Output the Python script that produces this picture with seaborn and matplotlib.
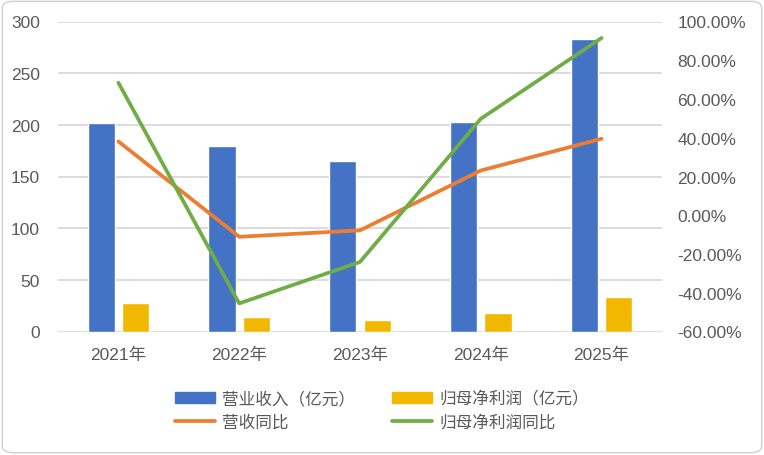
import numpy as np
import pandas as pd
import matplotlib
matplotlib.use("Agg")
import matplotlib.pyplot as plt
import seaborn as sns
from matplotlib.ticker import PercentFormatter, FixedLocator
from matplotlib.patches import FancyBboxPatch, Patch
from matplotlib.lines import Line2D

years = ["2021年", "2022年", "2023年", "2024年", "2025年"]
revenue = [202, 180, 165, 203, 283]          # 营业收入（亿元）
net_profit = [28, 14.5, 11.5, 17.5, 33]      # 归母净利润（亿元）
revenue_yoy = [38.1, -11.1, -7.8, 23.1, 39.5]     # %
profit_yoy = [68.4, -45.5, -24.1, 49.8, 91.5]     # %

bar_names = ["营业收入（亿元）", "归母净利润（亿元）"]
line_names = ["营收同比", "归母净利润同比"]
colors = {"blue": "#4472C4", "yellow": "#F2B800", "orange": "#ED7D31", "green": "#70AD47"}

sns.set_theme(style="white")
plt.rcParams["font.family"] = ["Liberation Sans", "Noto Sans CJK SC", "DejaVu Sans"]
plt.rcParams["axes.unicode_minus"] = False
tick_color = "#595959"

df = pd.DataFrame({
    "year": years * 2,
    "value": revenue + net_profit,
    "series": [bar_names[0]] * 5 + [bar_names[1]] * 5,
})

fig = plt.figure(figsize=(7.64, 4.56), dpi=100)
ax = fig.add_axes([58 / 764, 1 - 332.5 / 456, 604 / 764, 310 / 456])

sns.barplot(data=df, x="year", y="value", hue="series", ax=ax,
            palette=[colors["blue"], colors["yellow"]], width=0.57, gap=0.21,
            saturation=1, legend=False)
ax.set_ylim(0, 300)
ax.set_xlim(-0.5, 4.5)
ax.yaxis.set_major_locator(FixedLocator([0, 50, 100, 150, 200, 250, 300]))
ax.grid(axis="y", color="#d9d9d9", linewidth=1.3)
ax.set_axisbelow(True)
for s in ax.spines.values():
    s.set_visible(False)
ax.set_xlabel("")
ax.set_ylabel("")
ax.tick_params(axis="both", length=0, labelsize=12.5, colors=tick_color)
ax.tick_params(axis="x", pad=11)
ax.tick_params(axis="y", pad=13)

ax2 = ax.twinx()
x_idx = np.arange(len(years))
sns.lineplot(x=x_idx, y=revenue_yoy, ax=ax2, color=colors["orange"], linewidth=2.7)
sns.lineplot(x=x_idx, y=profit_yoy, ax=ax2, color=colors["green"], linewidth=2.7)
ax2.set_ylim(-60, 100)
ax2.yaxis.set_major_locator(FixedLocator(np.arange(-60, 101, 20)))
ax2.yaxis.set_major_formatter(PercentFormatter(decimals=2))
ax2.tick_params(axis="y", length=0, labelsize=12.5, colors=tick_color, pad=11)
for s in ax2.spines.values():
    s.set_visible(False)
ax2.grid(False)
ax.set_xlim(-0.5, 4.5)

handles = [
    Patch(color=colors["blue"], label=bar_names[0]),
    Line2D([], [], color=colors["orange"], linewidth=2.7, label=line_names[0]),
    Patch(color=colors["yellow"], label=bar_names[1]),
    Line2D([], [], color=colors["green"], linewidth=2.7, label=line_names[1]),
]
leg = fig.legend(handles=handles, ncol=2, loc="center", bbox_to_anchor=(0.5, 1 - 411 / 456),
                 frameon=False, fontsize=12, handlelength=2.4, handleheight=0.6,
                 columnspacing=2.2, labelspacing=0.45, handletextpad=0.45)
for t in leg.get_texts():
    t.set_color(tick_color)

border = FancyBboxPatch((0.003, 0.005), 0.994, 0.99, boxstyle="round,pad=0,rounding_size=0.015",
                        transform=fig.transFigure, fill=False, edgecolor="#d0d0d0", linewidth=1)
fig.patches.append(border)

fig.savefig("out.png", dpi=100)
